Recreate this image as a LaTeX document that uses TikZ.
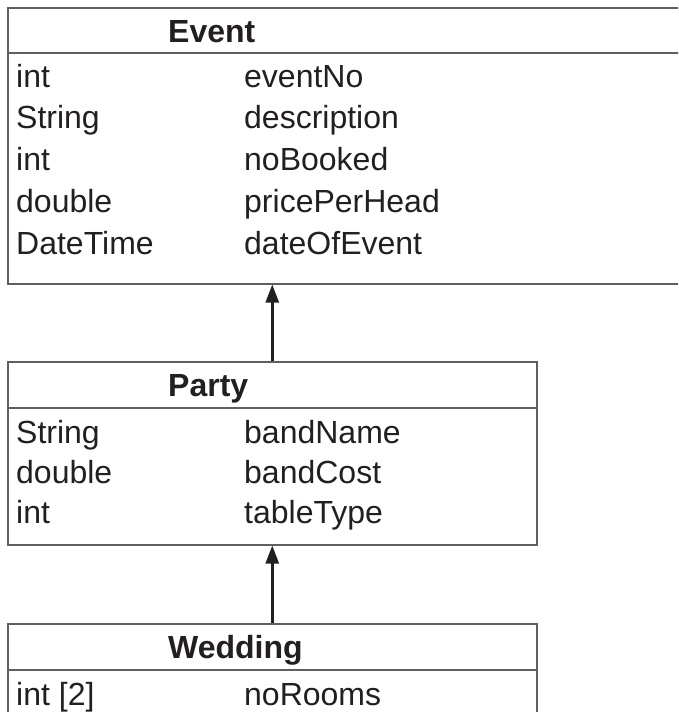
\documentclass[tikz,border=0pt]{standalone}
\usepackage{fontspec}
\setmainfont{Liberation Sans}
\usetikzlibrary{arrows.meta}
\definecolor{boxgray}{HTML}{5F5F5F}
\definecolor{inkblack}{HTML}{231F20}
\tikzset{
	classbox/.style={draw=boxgray,line width=1.5pt,anchor=north west,inner sep=0pt},
	classname/.style={anchor=base west,inner sep=0pt,font=\fontsize{32}{37}\selectfont\bfseries,text=inkblack},
	attr/.style={anchor=base west,inner sep=0pt,font=\fontsize{32}{37}\selectfont,text=inkblack},
	inherit/.style={draw=inkblack,line width=2.5pt,-{Triangle[length=18pt,width=13pt]}}
}
\begin{document}
\begin{tikzpicture}[x=1pt,y=-1pt]
	\clip (0,0) rectangle (678,712);
	% Event
	\node[classbox,minimum width=720pt,minimum height=45pt] (eventhead) at (7,7) {};
	\node[classbox,minimum width=720pt,minimum height=231pt] (event) at (7,52) {};
	\node[classname] (eventname) at (168,42) {Event};
	\node[attr] (evt1) at (16,87) {int};
	\node[attr] (evn1) at (244,87) {eventNo};
	\node[attr] (evt2) at (16,128.75) {String};
	\node[attr] (evn2) at (244,128.75) {description};
	\node[attr] (evt3) at (16,170.5) {int};
	\node[attr] (evn3) at (244,170.5) {noBooked};
	\node[attr] (evt4) at (16,212.25) {double};
	\node[attr] (evn4) at (244,212.25) {pricePerHead};
	\node[attr] (evt5) at (16,254) {DateTime};
	\node[attr] (evn5) at (244,254) {dateOfEvent};
	% Party
	\node[classbox,minimum width=529pt,minimum height=46pt] (partyhead) at (7,361) {};
	\node[classbox,minimum width=529pt,minimum height=137pt] (party) at (7,407) {};
	\node[classname] (partyname) at (168,396) {Party};
	\node[attr] (pat1) at (16,443) {String};
	\node[attr] (pan1) at (244,443) {bandName};
	\node[attr] (pat2) at (16,483) {double};
	\node[attr] (pan2) at (244,483) {bandCost};
	\node[attr] (pat3) at (16,523) {int};
	\node[attr] (pan3) at (244,523) {tableType};
	% Wedding
	\node[classbox,minimum width=529pt,minimum height=46pt] (weddinghead) at (7,623) {};
	\node[classbox,minimum width=529pt,minimum height=80pt] (wedding) at (7,669) {};
	\node[classname] (weddingname) at (168,658) {Wedding};
	\node[attr] (wet1) at (16,705) {int [2]};
	\node[attr] (wen1) at (244,705) {noRooms};
	% inheritance
	\draw[inherit] (partyhead.north) -- (partyhead.north |- event.south);
	\draw[inherit] (weddinghead.north) -- (weddinghead.north |- party.south);
\end{tikzpicture}
\end{document}
